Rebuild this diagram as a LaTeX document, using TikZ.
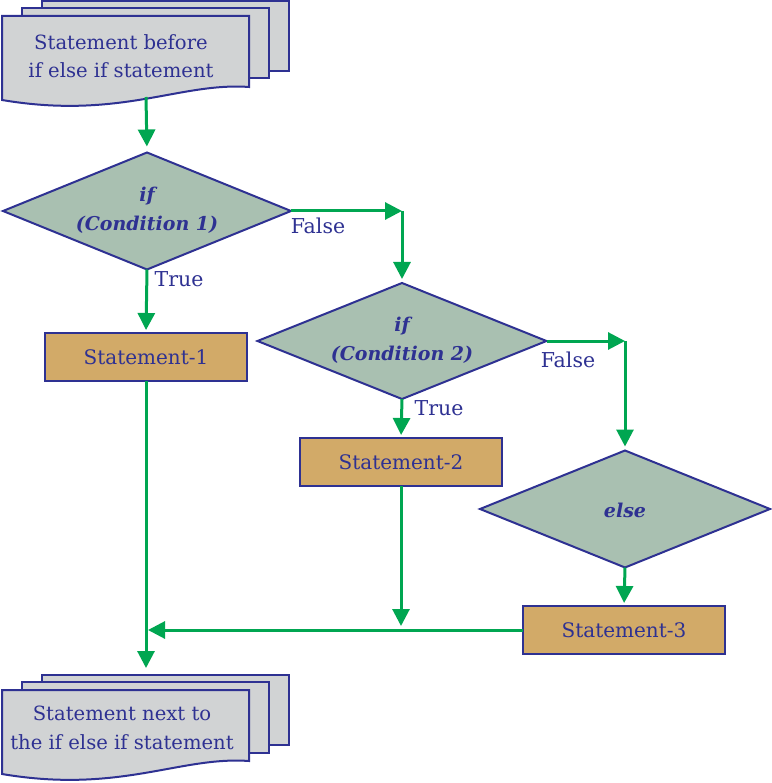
\documentclass[tikz,border=0pt]{standalone}
\usepackage{fontspec}
\setmainfont{DejaVu Serif}
\usetikzlibrary{arrows.meta,shapes.geometric}
\definecolor{navy}{HTML}{2E3192}
\definecolor{flowgreen}{HTML}{00A651}
\definecolor{diafill}{HTML}{A9C0B1}
\definecolor{boxfill}{HTML}{D2AA68}
\definecolor{docfill}{HTML}{D1D3D4}
\begin{document}
\begin{tikzpicture}[x=1pt,y=-1pt,
  txt/.style={text=navy,font=\fontsize{19.6}{28.5}\selectfont,inner sep=0pt,align=center},
  lbl/.style={text=navy,font=\fontsize{20.5}{27}\selectfont,inner sep=0pt},
  dtxt/.style={text=navy,font=\fontsize{19}{29}\selectfont\bfseries\itshape,inner sep=0pt,align=center},
  dia/.style={shape=diamond,draw=navy,fill=diafill,line width=2pt,inner sep=0pt,outer sep=0pt},
  stmt/.style={draw=navy,fill=boxfill,line width=2pt,minimum width=202pt,minimum height=48pt,inner sep=0pt,outer sep=0pt,text=navy,font=\fontsize{20}{28}\selectfont},
  sheet/.style={draw=navy,fill=docfill,line width=2pt,line join=miter},
  flow/.style={draw=flowgreen,line width=3pt,-{Triangle[length=17pt,width=17pt]}},
]
\useasboundingbox (0,0) rectangle (771,783);

% top document stack
\path[sheet] (42,1) rectangle (289,71);
\path[sheet] (22,8) rectangle (269,78);
\path[sheet] (2,16) -- (249,16) -- (249,87) .. controls (180,82) and (120,120) .. (2,100) -- cycle;
\node[txt] (doc1) at (121,56) {Statement before\\if else if statement};
\coordinate (doc1b) at (146,97);

% bottom document stack
\path[sheet] (42,675) rectangle (289,745);
\path[sheet] (22,682) rectangle (269,753);
\path[sheet] (2,690) -- (249,690) -- (249,761) .. controls (180,756) and (120,794) .. (2,774) -- cycle;
\node[txt] (doc2) at (122,728) {Statement next to\\the if else if statement};
\coordinate (doc2t) at (146,668);

% decisions
\node[dia,minimum width=288pt,minimum height=117pt] (d1) at (147,211) {};
\node[dtxt] (d1t) at (147,210) {if\\(Condition 1)};
\node[dia,minimum width=289pt,minimum height=116pt] (d2) at (402,341) {};
\node[dtxt] (d2t) at (402,340) {if\\(Condition 2)};
\node[dia,minimum width=290pt,minimum height=117pt] (d3) at (625,509) {};
\node[dtxt] (d3t) at (625,510) {else};

% statements
\node[stmt] (s1) at (146,357) {Statement-1};
\node[stmt] (s2) at (401,462) {Statement-2};
\node[stmt] (s3) at (624,630) {Statement-3};

% labels
\node[lbl] (f1) at (318,226) {False};
\node[lbl] (t1) at (179,279) {True};
\node[lbl] (f2) at (568,360) {False};
\node[lbl] (t2) at (439,408) {True};

% connectors
\coordinate (c1) at (d1.east -| d2.north);
\coordinate (c2) at (d2.east -| d3.north);
\coordinate (j2) at (401,626);
\coordinate (j1) at (148,630);
\draw[flow,shorten >=6pt] (doc1b) -- (d1.north);
\draw[flow] (d1.east) -- (c1);
\draw[flow,shorten >=4pt] (c1) -- (d2.north);
\draw[flow,shorten >=3pt] (d1.south) -- (s1.north);
\draw[flow] (d2.east) -- (c2);
\draw[flow,shorten >=4pt] (c2) -- (d3.north);
\draw[flow,shorten >=3pt] (d2.south) -- (s2.north);
\draw[flow,shorten >=3pt] (d3.south) -- (s3.north);
\draw[flow] (s2.south) -- (j2);
\draw[flow] (s3.west) -- (j1);
\draw[flow] (s1.south) -- (doc2t);
\end{tikzpicture}
\end{document}
